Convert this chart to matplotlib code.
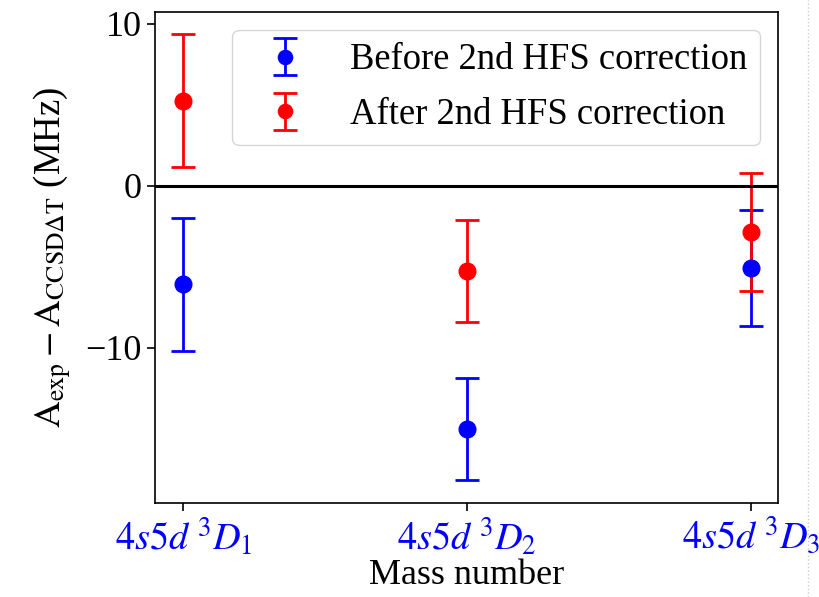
import matplotlib
matplotlib.use("Agg")
import matplotlib.pyplot as plt
from matplotlib.lines import Line2D

# niveaux et écarts A_exp - A_CCSDdT (MHz)
niveaux = ["$4s5d\\ ^3D_1$", "$4s5d\\ ^3D_2$", "$4s5d\\ ^3D_3$"]
position = [1, 2, 3]

avant = [-6.07, -15.02, -5.06]
avant_err = [4.12, 3.16, 3.60]

apres = [5.25, -5.23, -2.84]
apres_err = [4.11, 3.15, 3.62]

plt.rcParams['font.family'] = ['Liberation Serif', 'DejaVu Serif']
plt.rcParams['mathtext.fontset'] = 'stix'
plt.rcParams['font.size'] = 26

fig = plt.figure(figsize=(8.19, 5.97), dpi=100)
ax = fig.add_axes([0.189, 0.1575, 0.761, 0.8225])

ax.errorbar(position, avant, yerr=avant_err, fmt='o', color='blue',
            markersize=12, elinewidth=2.0, capsize=8.5, capthick=2.0,
            label='Before 2nd HFS correction')
ax.errorbar(position, apres, yerr=apres_err, fmt='o', color='red',
            markersize=12, elinewidth=2.0, capsize=8.5, capthick=2.0,
            label='After 2nd HFS correction')
ax.axhline(0, color='black', lw=2.2)

ax.set_xlim(0.9, 3.095)
ax.set_ylim(-19.57, 10.74)
ax.set_yticks([10, 0, -10])
ax.set_xticks(position)
ax.set_xticklabels(niveaux, color='blue', fontsize=27.5)
ax.tick_params(length=6, width=1.2)
for s in ax.spines.values():
    s.set_linewidth(1.2)

ax.set_xlabel('Mass number', labelpad=1)
ax.set_ylabel('$\\mathrm{A}_{\\rm exp} - \\mathrm{A}_{\\rm CCSD\\Delta T}$ (MHz)',
              fontsize=26.5, labelpad=8)

ax.legend(loc='upper right', fontsize=26.4, handletextpad=0.66,
          handlelength=2.2, markerscale=0.85, borderpad=0.35,
          labelspacing=0.55, borderaxespad=0, bbox_to_anchor=(0.971, 0.963))

# bord pointillé à droite (capture)
fig.add_artist(Line2D([808 / 819, 808 / 819], [0, 1], color='#cccccc',
                      lw=1, ls=':'))

plt.savefig("out.png")
